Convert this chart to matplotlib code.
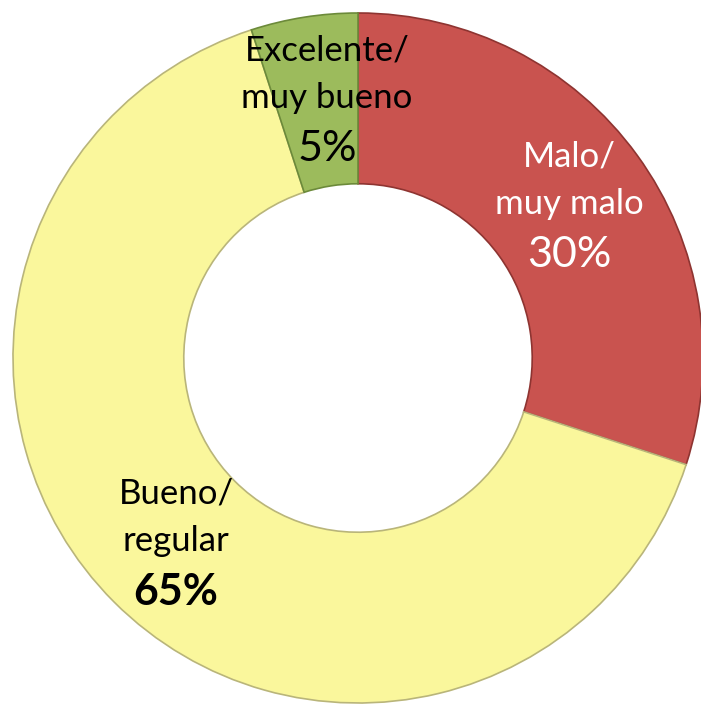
import matplotlib
matplotlib.use("Agg")
import matplotlib.pyplot as plt

# data, clockwise from 12 o'clock
labels = ["Malo/\nmuy malo", "Bueno/\nregular", "Excelente/\nmuy bueno"]
values = [30, 65, 5]
pct_labels = ["30%", "65%", "5%"]
colors = ["#C9534F", "#FAF79C", "#9CBB5C"]
edges = ["#8E3431", "#B9B57A", "#6C8A3A"]

CX, CY, R = 358, 358, 345  # pixel centre / outer radius
W, H = 701, 705


def to_data(px, py):
    return (px - CX) / R, (CY - py) / R


def main():
    plt.rcParams["font.family"] = ["Lato", "DejaVu Sans"]
    fig = plt.figure(figsize=(W / 100, H / 100), dpi=100)
    ax = fig.add_axes([0, 0, 1, 1])

    wedges, _ = ax.pie(
        values,
        colors=colors,
        startangle=90,
        counterclock=False,
        radius=1.0,
        wedgeprops=dict(width=0.495, linewidth=1.2),
    )
    for w, e in zip(wedges, edges):
        w.set_edgecolor(e)

    ax.set_xlim(-CX / R, (W - CX) / R)
    ax.set_ylim(-(H - CY) / R, CY / R)
    ax.set_aspect("equal")
    ax.axis("off")

    # label positions (pixels) and styling
    spots = [(569, 156, "white", "normal"),
             (176, 493, "black", "bold"),
             (327, 50, "black", "normal")]
    for lab, pct, (px, py, col, wt) in zip(labels, pct_labels, spots):
        lines = lab.split("\n")
        for i, ln in enumerate(lines):
            x, y = to_data(px, py + i * 48)
            ax.text(x, y, ln, ha="center", va="center", fontsize=25, color=col)
        x, y = to_data(px, py + 2 * 48 + 3)
        ax.text(x, y, pct, ha="center", va="center", fontsize=31,
                color=col, fontweight=wt)

    fig.savefig("out.png", dpi=100)


if __name__ == "__main__":
    main()
